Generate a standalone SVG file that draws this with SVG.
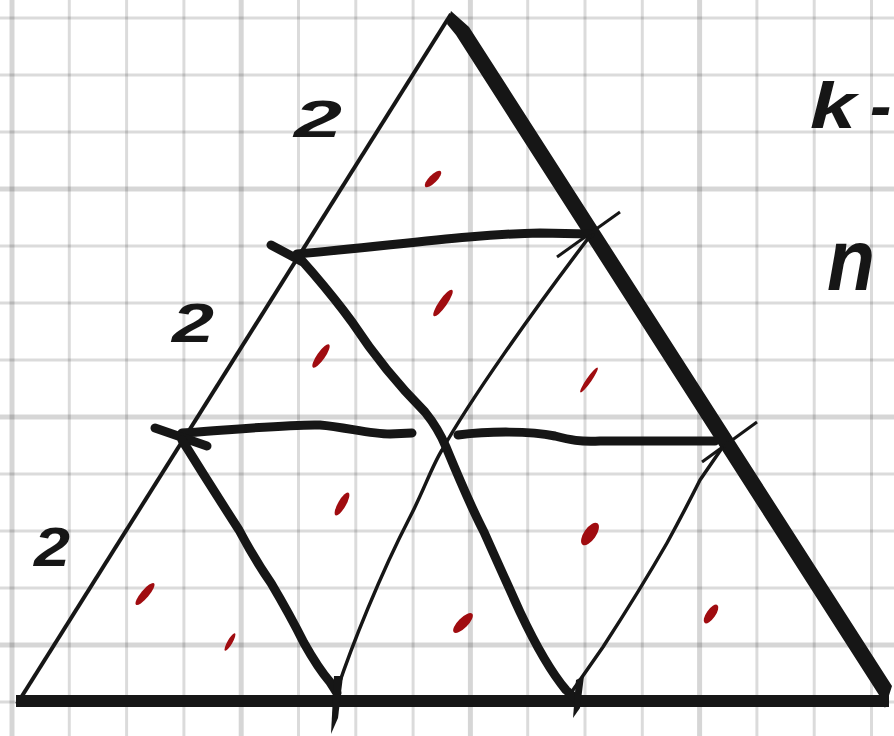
<svg xmlns="http://www.w3.org/2000/svg" width="894" height="736" viewBox="0 0 894 736">
<style>
.g{stroke:#000;stroke-opacity:0.14;stroke-width:3;fill:none}
.gt{stroke:#000;stroke-opacity:0.16;stroke-width:5;fill:none}
.thin{stroke:#161616;stroke-width:3.5;fill:none;stroke-linecap:round;stroke-linejoin:round}
.thick{stroke:#161616;stroke-width:9;fill:none;stroke-linecap:round;stroke-linejoin:round}
.ink{fill:#161616}
.lbl{font-family:"Liberation Sans","DejaVu Sans",sans-serif;font-weight:bold;font-style:italic;fill:#161616}
.red{fill:#a00c10}
</style>
<rect width="894" height="736" fill="#fff"/>
<g id="grid">
<path class="g" d="M69.3,0V736M126.6,0V736M183.9,0V736M298.5,0V736M355.8,0V736M413.1,0V736M527.7,0V736M585,0V736M642.3,0V736M756.9,0V736M814.2,0V736M871.5,0V736"/>
<path class="gt" d="M12,0V736M241.2,0V736M470.4,0V736M699.6,0V736"/>
<path class="g" d="M0,18H894M0,75H894M0,132H894M0,246H894M0,303H894M0,360H894M0,474H894M0,531H894M0,588H894M0,702H894"/>
<path class="gt" d="M0,189H894M0,417H894M0,645H894"/>
</g>
<g id="triangle">
<path d="M451,14 L17,704" stroke="#161616" stroke-width="4" fill="none"/>
<polygon class="ink" points="451,11 469,27 892,686 885,708 879,695 456,35 447,24"/>
<path d="M16,701 H889" stroke="#161616" stroke-width="12" fill="none"/>
</g>
<g id="connectors">
<path class="thick" d="M297,254 C390,246 470,234 540,233 L590,234"/>
<path class="thick" d="M271,245 L301,261"/>
<path d="M557,257 L620,212" stroke="#161616" stroke-width="3" fill="none"/>
<path class="thin" d="M337,690 C352,645 380,575 410,517 C424,490 432,466 442,450 C470,400 530,315 590,236"/>
<path class="thick" d="M297,255 L312,272 Q336,300 352,322 Q385,372 425,412 Q438,428 446,447 Q470,505 484,532 Q500,568 520,612 Q545,665 566,690 L575,698"/>
<path class="thick" d="M182,433 C230,430 290,424 320,425 C345,427 370,434 390,434 L412,433"/>
<path class="thick" d="M155,428 L207,446"/>
<path class="thick" d="M458,435 C490,431 530,431 555,436 C570,440 580,442 600,441 L715,441"/>
<path d="M702,462 L757,422" stroke="#161616" stroke-width="3" fill="none"/>
<path class="thick" d="M182,440 Q210,485 239,530 Q255,560 271,583 Q290,615 304,643 Q318,668 330,682 L337,693"/>
<path class="thin" d="M573,690 L603,647 Q640,590 667,543 Q685,510 700,480 L722,448"/>
<polygon class="ink" points="334,676 343,676 338,718 331,734"/>
<polygon class="ink" points="576,680 584,676 580,708 573,718"/>
</g>
<g id="labels">
<text class="lbl" x="318" y="137" font-size="52" text-anchor="middle" textLength="48" lengthAdjust="spacingAndGlyphs">2</text>
<text class="lbl" x="193" y="342" font-size="56" text-anchor="middle" textLength="42" lengthAdjust="spacingAndGlyphs">2</text>
<text class="lbl" x="52" y="566" font-size="56" text-anchor="middle" textLength="36" lengthAdjust="spacingAndGlyphs">2</text>
<text class="lbl" font-size="64" y="128"><tspan x="810" textLength="46" lengthAdjust="spacingAndGlyphs">k</tspan><tspan x="870">-</tspan></text>
<text class="lbl" x="827" y="290" font-size="88" textLength="48" lengthAdjust="spacingAndGlyphs">n</text>
</g>
<g id="marks">
<ellipse class="red" cx="433" cy="179" rx="11" ry="4" transform="rotate(-45 433 179)"/>
<ellipse class="red" cx="443" cy="303" rx="16" ry="4" transform="rotate(-55 443 303)"/>
<ellipse class="red" cx="321" cy="356" rx="14" ry="4" transform="rotate(-55 321 356)"/>
<ellipse class="red" cx="589" cy="380" rx="15" ry="2.5" transform="rotate(-55 589 380)"/>
<ellipse class="red" cx="342" cy="504" rx="13" ry="4" transform="rotate(-60 342 504)"/>
<ellipse class="red" cx="590" cy="534" rx="13" ry="6" transform="rotate(-55 590 534)"/>
<ellipse class="red" cx="145" cy="594" rx="14" ry="4" transform="rotate(-50 145 594)"/>
<ellipse class="red" cx="230" cy="642" rx="10" ry="2.5" transform="rotate(-60 230 642)"/>
<ellipse class="red" cx="463" cy="623" rx="13" ry="5" transform="rotate(-45 463 623)"/>
<ellipse class="red" cx="711" cy="614" rx="11" ry="4.5" transform="rotate(-55 711 614)"/>
</g>
</svg>
